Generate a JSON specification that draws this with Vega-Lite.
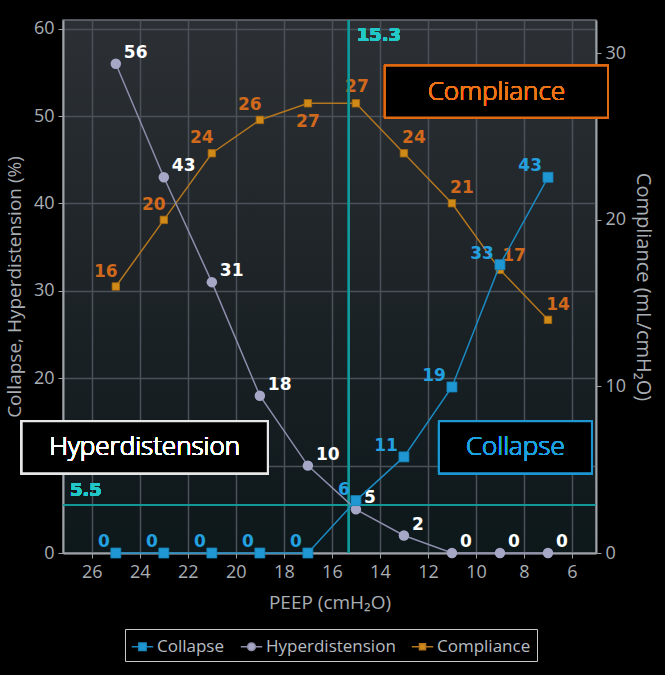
{
  "$schema": "https://vega.github.io/schema/vega-lite/v6.json",
  "width": 533,
  "height": 533,
  "autosize": "none",
  "padding": {"left": 63, "top": 20, "right": 69, "bottom": 122},
  "background": "black",
  "view": {
    "fill": {"gradient": "linear", "x1": 0, "y1": 0, "x2": 0, "y2": 1,
      "stops": [{"offset": 0, "color": "#2c3035"}, {"offset": 0.5, "color": "#1d2327"}, {"offset": 1, "color": "#0d181b"}]},
    "stroke": "#6a6f75",
    "strokeWidth": 1.5
  },
  "config": {
    "font": "Open Sans",
    "axis": {
      "domainColor": "#9ea3a9", "domainWidth": 2, "tickColor": "#9ea3a9", "tickSize": 5,
      "labelFontSize": 18, "labelColor": "#a9aeb4", "titleFontSize": 19, "titleColor": "#a9aeb4",
      "titleFontWeight": "normal", "gridColor": "#4b5158", "gridWidth": 1.5, "labelFont": "Open Sans", "titleFont": "Open Sans"
    }
  },
  "data": {"values": [
    {"peep": 25, "series": "Collapse", "value": 0},
    {"peep": 23, "series": "Collapse", "value": 0},
    {"peep": 21, "series": "Collapse", "value": 0},
    {"peep": 19, "series": "Collapse", "value": 0},
    {"peep": 17, "series": "Collapse", "value": 0},
    {"peep": 15, "series": "Collapse", "value": 6},
    {"peep": 13, "series": "Collapse", "value": 11},
    {"peep": 11, "series": "Collapse", "value": 19},
    {"peep": 9, "series": "Collapse", "value": 33},
    {"peep": 7, "series": "Collapse", "value": 43},
    {"peep": 25, "series": "Hyperdistension", "value": 56},
    {"peep": 23, "series": "Hyperdistension", "value": 43},
    {"peep": 21, "series": "Hyperdistension", "value": 31},
    {"peep": 19, "series": "Hyperdistension", "value": 18},
    {"peep": 17, "series": "Hyperdistension", "value": 10},
    {"peep": 15, "series": "Hyperdistension", "value": 5},
    {"peep": 13, "series": "Hyperdistension", "value": 2},
    {"peep": 11, "series": "Hyperdistension", "value": 0},
    {"peep": 9, "series": "Hyperdistension", "value": 0},
    {"peep": 7, "series": "Hyperdistension", "value": 0},
    {"peep": 25, "series": "Compliance", "value": 16},
    {"peep": 23, "series": "Compliance", "value": 20},
    {"peep": 21, "series": "Compliance", "value": 24},
    {"peep": 19, "series": "Compliance", "value": 26},
    {"peep": 17, "series": "Compliance", "value": 27},
    {"peep": 15, "series": "Compliance", "value": 27},
    {"peep": 13, "series": "Compliance", "value": 24},
    {"peep": 11, "series": "Compliance", "value": 21},
    {"peep": 9, "series": "Compliance", "value": 17},
    {"peep": 7, "series": "Compliance", "value": 14}
  ]},
  "encoding": {
    "x": {"field": "peep", "type": "quantitative",
      "scale": {"domain": [5, 27.2], "reverse": true, "nice": false, "zero": false},
      "axis": {"values": [6, 8, 10, 12, 14, 16, 18, 20, 22, 24, 26], "title": "PEEP (cmH₂O)", "grid": true, "labelPadding": 5, "titlePadding": 12}}
  },
  "layer": [
    {
      "transform": [{"filter": "datum.series === 'Compliance'"}],
      "encoding": {
        "y": {"field": "value", "type": "quantitative",
          "scale": {"domain": [0, 32], "nice": false},
          "axis": {"orient": "right", "values": [0, 10, 20, 30], "grid": false, "title": "Compliance (mL/cmH₂O)", "titleFontSize": 20, "labelPadding": 4, "titlePadding": 7}}
      },
      "layer": [
        {"mark": {"type": "line", "color": "#b3761f", "strokeWidth": 1.5}},
        {"mark": {"type": "point", "shape": "square", "filled": true, "size": 55, "opacity": 1, "color": "#d08a18", "stroke": "#a86a10", "strokeWidth": 0.8}},
        {"transform": [{"filter": "datum.peep >= 19"}],
          "mark": {"type": "text", "font": "DejaVu Sans", "fontWeight": "bold", "fontSize": 17, "color": "#d0691c", "dx": -10, "dy": -15},
          "encoding": {"text": {"field": "value", "type": "quantitative", "format": "d"}}},
        {"transform": [{"filter": "datum.peep == 17"}],
          "mark": {"type": "text", "font": "DejaVu Sans", "fontWeight": "bold", "fontSize": 17, "color": "#d0691c", "dx": 0, "dy": 19},
          "encoding": {"text": {"field": "value", "type": "quantitative", "format": "d"}}},
        {"transform": [{"filter": "datum.peep == 15"}],
          "mark": {"type": "text", "font": "DejaVu Sans", "fontWeight": "bold", "fontSize": 17, "color": "#d0691c", "dx": 1, "dy": -16},
          "encoding": {"text": {"field": "value", "type": "quantitative", "format": "d"}}},
        {"transform": [{"filter": "datum.peep <= 13 && datum.peep != 9"}],
          "mark": {"type": "text", "font": "DejaVu Sans", "fontWeight": "bold", "fontSize": 17, "color": "#d0691c", "dx": 10, "dy": -15},
          "encoding": {"text": {"field": "value", "type": "quantitative", "format": "d"}}},
        {"transform": [{"filter": "datum.peep == 9"}],
          "mark": {"type": "text", "font": "DejaVu Sans", "fontWeight": "bold", "fontSize": 17, "color": "#d0691c", "dx": 14, "dy": -14},
          "encoding": {"text": {"field": "value", "type": "quantitative", "format": "d"}}},
        {"transform": [{"filter": "datum.peep > 100"}],
          "mark": {"type": "point", "filled": true, "opacity": 1, "strokeWidth": 1.5},
          "encoding": {
            "color": {"field": "series", "type": "nominal",
              "scale": {"domain": ["Collapse", "Hyperdistension", "Compliance"], "range": ["#1f97d2", "#a6a6c6", "#d08a18"]},
              "legend": {
                "orient": "none", "legendX": 62, "legendY": 609, "direction": "horizontal", "title": null,
                "labelFontSize": 17, "labelColor": "#b8bdc3", "labelFont": "Open Sans",
                "symbolSize": 460, "symbolStrokeWidth": 1.5, "symbolOpacity": 1, "columnPadding": 12, "labelOffset": 3, "padding": 6,
                "strokeColor": "#c8c8c8", "fillColor": "black"
              }},
            "stroke": {"field": "series", "type": "nominal",
              "scale": {"domain": ["Collapse", "Hyperdistension", "Compliance"], "range": ["#1b8ac2", "#8e8eac", "#b3761f"]},
              "legend": {
                "orient": "none", "legendX": 62, "legendY": 609, "direction": "horizontal", "title": null,
                "labelFontSize": 17, "labelColor": "#b8bdc3", "labelFont": "Open Sans",
                "symbolSize": 460, "symbolStrokeWidth": 1.5, "symbolOpacity": 1, "columnPadding": 12, "labelOffset": 3, "padding": 6,
                "strokeColor": "#c8c8c8", "fillColor": "black"
              }},
            "shape": {"field": "series", "type": "nominal",
              "scale": {"domain": ["Collapse", "Hyperdistension", "Compliance"],
                "range": ["M-1,0H-0.34M0.34,0H1M-0.34,-0.34H0.34V0.34H-0.34Z", "M-1,0H-0.36M0.36,0H1M-0.36,0A0.36,0.36,0,1,1,0.36,0A0.36,0.36,0,1,1,-0.36,0Z", "M-1,0H-0.28M0.28,0H1M-0.28,-0.28H0.28V0.28H-0.28Z"]},
              "legend": {
                "orient": "none", "legendX": 62, "legendY": 609, "direction": "horizontal", "title": null,
                "labelFontSize": 17, "labelColor": "#b8bdc3", "labelFont": "Open Sans",
                "symbolSize": 460, "symbolStrokeWidth": 1.5, "symbolOpacity": 1, "columnPadding": 12, "labelOffset": 3, "padding": 6,
                "strokeColor": "#c8c8c8", "fillColor": "black"
              }}
          }}
      ]
    },
    {
      "encoding": {
        "y": {"field": "value", "type": "quantitative",
          "scale": {"domain": [0, 61], "nice": false},
          "axis": {"orient": "left", "values": [0, 10, 20, 30, 40, 50, 60], "grid": true, "title": "Collapse, Hyperdistension (%)", "labelPadding": 4, "titlePadding": 9}}
      },
      "layer": [
        {"mark": {"type": "rule", "color": "#15999a", "strokeWidth": 1.5}, "encoding": {"x": {"datum": 15.3}, "y": null}},
        {"mark": {"type": "rule", "color": "#15999a", "strokeWidth": 1.5}, "encoding": {"y": {"datum": 5.5}, "x": null}},
        {"mark": {"type": "text", "font": "DejaVu Sans", "fontWeight": "bold", "fontSize": 18, "color": "#22c8c8", "align": "left", "baseline": "top", "dx": 8, "dy": 7, "text": "15.3"},
          "encoding": {"x": {"datum": 15.3}, "y": {"datum": 61}}},
        {"mark": {"type": "text", "font": "DejaVu Sans", "fontWeight": "bold", "fontSize": 18, "color": "#22c8c8", "align": "left", "baseline": "bottom", "dx": 7, "dy": -5, "text": "5.5"},
          "encoding": {"x": {"datum": 27.2}, "y": {"datum": 5.5}}},
        {"transform": [{"filter": "datum.series === 'Hyperdistension'"}],
          "mark": {"type": "line", "color": "#8e8eac", "strokeWidth": 1.5}},
        {"transform": [{"filter": "datum.series === 'Hyperdistension'"}],
          "mark": {"type": "point", "shape": "circle", "filled": true, "size": 110, "opacity": 1, "color": "#a6a6c6"}},
        {"transform": [{"filter": "datum.series === 'Hyperdistension'"}],
          "mark": {"type": "text", "font": "DejaVu Sans", "fontWeight": "bold", "fontSize": 17, "color": "#ffffff", "align": "left", "dx": 8, "dy": -11},
          "encoding": {"text": {"field": "value", "type": "quantitative", "format": "d"}}},
        {"transform": [{"filter": "datum.series === 'Collapse'"}],
          "mark": {"type": "line", "color": "#1b8ac2", "strokeWidth": 1.5}},
        {"transform": [{"filter": "datum.series === 'Collapse'"}],
          "mark": {"type": "point", "shape": "square", "filled": true, "size": 100, "opacity": 1, "color": "#1f97d2", "stroke": "#1680b5", "strokeWidth": 0.8}},
        {"transform": [{"filter": "datum.series === 'Collapse'"}],
          "mark": {"type": "text", "font": "DejaVu Sans", "fontWeight": "bold", "fontSize": 17, "color": "#22a0e0", "align": "right", "dx": -6, "dy": -11},
          "encoding": {"text": {"field": "value", "type": "quantitative", "format": "d"}}},
        {"mark": {"type": "rect", "fill": "black", "stroke": "#e8e8e8", "strokeWidth": 2},
          "encoding": {"x": {"datum": 28.92}, "x2": {"datum": 18.67}, "y": {"datum": 15.09}, "y2": {"datum": 9.14}}},
        {"mark": {"type": "text", "font": "Open Sans", "fontWeight": 300, "fontSize": 26, "color": "#ffffff", "text": "Hyperdistension"},
          "encoding": {"x": {"datum": 23.8}, "y": {"datum": 12.1}}},
        {"mark": {"type": "rect", "fill": "black", "stroke": "#1f97d2", "strokeWidth": 2},
          "encoding": {"x": {"datum": 11.54}, "x2": {"datum": 5.17}, "y": {"datum": 15.09}, "y2": {"datum": 9.14}}},
        {"mark": {"type": "text", "font": "Open Sans", "fontWeight": 300, "fontSize": 26, "color": "#1fa3e0", "text": "Collapse"},
          "encoding": {"x": {"datum": 8.36}, "y": {"datum": 12.1}}},
        {"mark": {"type": "rect", "fill": "black", "stroke": "#e06a12", "strokeWidth": 2},
          "encoding": {"x": {"datum": 13.79}, "x2": {"datum": 4.5}, "y": {"datum": 55.77}, "y2": {"datum": 49.83}}},
        {"mark": {"type": "text", "font": "Open Sans", "fontWeight": 300, "fontSize": 26, "color": "#ee7418", "text": "Compliance"},
          "encoding": {"x": {"datum": 9.15}, "y": {"datum": 52.8}}}
      ]
    }
  ],
  "resolve": {"scale": {"y": "independent"}}
}
